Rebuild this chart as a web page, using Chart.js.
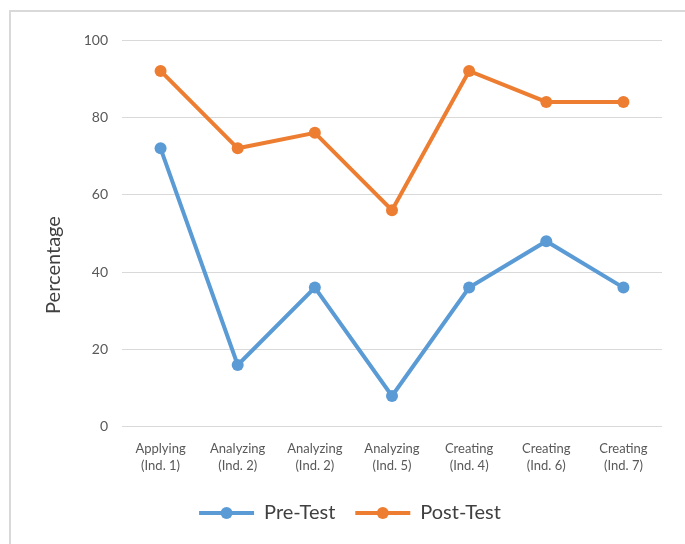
<!DOCTYPE html>
<html>
<head>
<meta charset="utf-8">
<script src="https://cdn.jsdelivr.net/npm/chart.js@4"></script>
<style>
  html, body { margin: 0; padding: 0; background: #fff; }
  #frame { position: absolute; left: 9px; top: 10px; width: 690px; height: 560px;
           border-top: 2px solid #d9d9d9; border-left: 2px solid #d9d9d9; }
  #wrap { position: absolute; left: 0; top: 0; width: 685px; height: 544px; }
</style>
</head>
<body>
<div id="frame"></div>
<div id="wrap"><canvas id="chart"></canvas></div>
<script>
// categories and series
const categories = [
    ['Applying', '(Ind. 1)'],
    ['Analyzing', '(Ind. 2)'],
    ['Analyzing', '(Ind. 2)'],
    ['Analyzing', '(Ind. 5)'],
    ['Creating', '(Ind. 4)'],
    ['Creating', '(Ind. 6)'],
    ['Creating', '(Ind. 7)']
];
const preTest = [72, 16, 36, 8, 36, 48, 36];
const postTest = [92, 72, 76, 56, 92, 84, 84];
const yTitle = 'Percentage';

const FONT = 'Lato, "Open Sans", sans-serif';

// put a dot in the middle of each legend line
const legendDots = {
    id: 'legendDots',
    afterDraw(chart) {
        const legend = chart.legend;
        if (!legend || !legend.legendHitBoxes) return;
        const ctx = chart.ctx;
        const bw = legend.options.labels.boxWidth;
        legend.legendHitBoxes.forEach((box, i) => {
            const ds = chart.data.datasets[i];
            ctx.save();
            ctx.fillStyle = ds.borderColor;
            ctx.beginPath();
            ctx.arc(box.left + bw / 2, box.top + box.height / 2, 6, 0, Math.PI * 2);
            ctx.fill();
            ctx.restore();
        });
    }
};

// the y title sits lower than the middle of the axis in the original
const yTitlePlugin = {
    id: 'yTitle',
    afterDraw(chart) {
        const ctx = chart.ctx;
        ctx.save();
        ctx.translate(54, 265);
        ctx.rotate(-Math.PI / 2);
        ctx.fillStyle = '#404040';
        ctx.font = '20px ' + FONT;
        ctx.textAlign = 'center';
        ctx.textBaseline = 'middle';
        ctx.fillText(yTitle, 0, 0);
        ctx.restore();
    }
};

new Chart(document.getElementById('chart'), {
    type: 'line',
    data: {
        labels: categories,
        datasets: [{
            label: 'Pre-Test',
            data: preTest,
            borderColor: '#5b9bd5',
            backgroundColor: '#5b9bd5',
            borderWidth: 4,
            pointRadius: 6,
            pointBorderWidth: 0,
            tension: 0
        }, {
            label: 'Post-Test',
            data: postTest,
            borderColor: '#ed7d31',
            backgroundColor: '#ed7d31',
            borderWidth: 4,
            pointRadius: 6,
            pointBorderWidth: 0,
            tension: 0
        }]
    },
    options: {
        responsive: true,
        maintainAspectRatio: false,
        animation: false,
        layout: { padding: { left: 38, right: 23, top: 40, bottom: 11 } },
        plugins: {
            tooltip: { enabled: false },
            legend: {
                position: 'bottom',
                labels: {
                    color: '#404040',
                    font: { family: FONT, size: 20 },
                    boxWidth: 55,
                    boxHeight: 4,
                    padding: 20,
                    generateLabels: (chart) => {
                        const items = Chart.defaults.plugins.legend.labels.generateLabels(chart);
                        items.forEach(it => { it.lineWidth = 0; });
                        return items;
                    }
                }
            }
        },
        scales: {
            x: {
                offset: true,
                grid: { display: false },
                border: { display: false },
                afterFit: (axis) => { axis.height += 3; },
                ticks: {
                    color: '#595959',
                    font: { family: FONT, size: 13, lineHeight: 1.35 },
                    maxRotation: 0,
                    padding: 5
                }
            },
            y: {
                min: 0,
                max: 100,
                grid: { color: '#d9d9d9', drawTicks: false },
                border: { display: false },
                afterFit: (axis) => { axis.width = 84; },
                ticks: {
                    stepSize: 20,
                    color: '#595959',
                    font: { family: FONT, size: 14 },
                    padding: 14
                }
            }
        }
    },
    plugins: [legendDots, yTitlePlugin]
});
</script>
</body>
</html>
